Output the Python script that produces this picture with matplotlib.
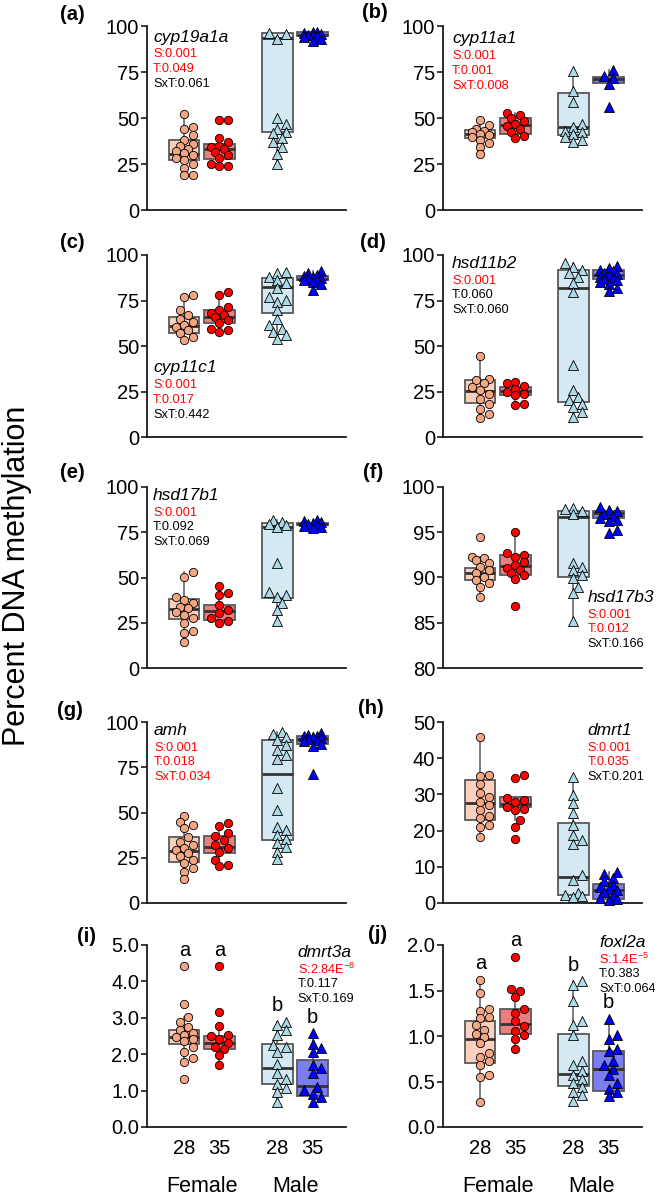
import numpy as np
import matplotlib
matplotlib.use("Agg")
import matplotlib.pyplot as plt

plt.rcParams['font.family'] = ['Liberation Sans', 'DejaVu Sans']
plt.rcParams['mathtext.fontset'] = 'custom'
plt.rcParams['mathtext.rm'] = 'Liberation Sans'

# ---- groups shared by every panel
positions = [1, 2, 3.65, 4.65]
tick_labels = ['28', '35', '28', '35']
sex_labels = ['Female', 'Male']
point_colors = ['#F4A582', '#FF0000', '#ADD8E6', '#0000FF']
box_colors = ['#FCD0BE', '#F27C7C', '#D4E9F1', '#7D7DF2']
markers = ['o', 'o', '^', '^']

# ---- panel data: points per group, boxes as (q1, median, q3)
a_points = [
    [52, 45, 44, 41, 38, 36, 35, 33, 32, 31, 30, 28, 27, 25, 23, 19, 19],
    [49, 49, 39, 37, 35, 34, 33, 31.5, 30, 28, 25, 24, 23.7],
    [96, 95.4, 93, 49.8, 47, 44, 42.5, 41.6, 38.9, 37, 34, 30.7, 25],
    [97, 96.5, 96, 95.5, 95, 95, 94.5, 94, 93, 92],
]
a_boxes = [(27, 30.7, 38), (27.5, 33, 35.8), (42.5, 93.6, 96.4), (94.5, 95.3, 96.5)]

b_points = [
    [49, 46, 44, 43, 42.3, 41.4, 40.5, 39.6, 38.2, 36.4, 34.2, 30.3],
    [52.6, 51.4, 50, 48.6, 46.8, 45.4, 44, 42.3, 40, 39],
    [75.7, 64.9, 58.6, 46.8, 45, 43.2, 42.3, 41.4, 39.6, 37.8, 37],
    [76, 73, 72, 68.5, 55.9],
]
b_boxes = [(39.3, 41.4, 43.6), (41.4, 46, 50), (40.5, 45, 63.4), (68.8, 71, 72.5)]

c_points = [
    [78, 77, 69.7, 67, 65, 63.3, 61.5, 60.6, 58.7, 56.9, 55, 53.2],
    [79.8, 78, 71.6, 69.7, 67.9, 67, 65.7, 64.2, 62.4, 59.6, 58.7, 57.8],
    [90.8, 90, 88, 86, 84.4, 81.7, 77, 75.2, 74.3, 69.7, 65, 61.5, 59.6, 57.8, 56, 54],
    [91, 90, 89, 88.5, 88, 87.5, 87, 86.5, 86, 85, 84, 81],
]
c_boxes = [(57.2, 61, 65.7), (62.8, 66, 70), (68.3, 82.6, 87.5), (86.2, 87, 88.5)]

d_points = [
    [44.4, 32, 31.2, 29.4, 27.5, 25.7, 23.9, 21.1, 18.3, 15.6, 12.8, 10.6],
    [30.3, 29.4, 27.9, 26.6, 24.8, 23.9, 22.9, 18.3, 17.4],
    [95.4, 93.6, 91.7, 89.9, 88, 84.4, 79.8, 39.4, 25.7, 22, 20.2, 18.3, 16.5, 13.8, 11],
    [94, 93, 92, 91, 90, 89.5, 89, 88, 87.5, 87, 86, 85, 84, 82, 80],
]
d_boxes = [(18.9, 25.1, 31.2), (23.3, 25.4, 27.5), (19.3, 82, 91.7), (86.6, 89, 91.7)]

e_points = [
    [53.2, 50.5, 39.4, 37.6, 35.8, 33.9, 33, 31.2, 29.4, 27.5, 24.8, 20.2, 19.3, 14.1],
    [45.3, 41.3, 40.4, 34.9, 32.1, 30.3, 27.5, 25.7, 24.8],
    [81.7, 80.7, 79.8, 78.9, 78, 57.8, 42.2, 40.4, 39.4, 35.8, 32.1, 25.7],
    [81.5, 81, 80.5, 80, 79.5, 79, 78.5, 78, 77.5],
]
e_boxes = [(27, 32.8, 38), (26.6, 31.7, 34.7), (38.9, 78, 80.2), (79, 79.5, 80)]

f_points = [
    [94.5, 92.3, 92.1, 91.9, 91.6, 91.2, 90.8, 90.5, 90.1, 89.7, 89.4, 89, 87.9],
    [95, 92.7, 92.5, 92.3, 91.7, 91.4, 91, 90.8, 90.5, 90.3, 89.8, 86.9],
    [97.7, 97.6, 97.4, 97, 91.6, 91.2, 90.8, 90.3, 89.9, 89, 88.3, 85.2],
    [97.8, 97.5, 97.3, 97, 96.8, 96.6, 96.4, 96.2, 95.2, 94.9],
]
f_boxes = [(89.7, 90.5, 91.1), (90.3, 91.3, 92.5), (90, 96.7, 97.4), (96.6, 97.1, 97.3)]

g_points = [
    [48, 44.9, 43, 41.3, 36.7, 33.9, 32.1, 30.3, 29.4, 27.5, 25.7, 23.9, 22, 19.3, 17.4, 13.2],
    [44, 42.6, 38.5, 37.2, 34.9, 32.1, 30.3, 28.4, 23.5, 21.1, 20.2],
    [94.5, 93.6, 91.7, 89.9, 87.2, 84.4, 81.7, 79.8, 63.3, 51.4, 42.2, 40.4, 37.6,
     35.2, 33, 31.2, 28.4, 24.2],
    [94, 93, 92.5, 92, 91.5, 91, 90.5, 90, 89.5, 88, 87, 71],
]
g_boxes = [(22.9, 29, 36.7), (27.9, 31.2, 37), (34.9, 71.2, 90.3), (88.1, 90.8, 92.3)]

h_points = [
    [45.9, 35.3, 35, 33, 30.3, 29.4, 28, 27, 25.7, 23.9, 23.4, 21.6, 21.1, 18.3],
    [35.3, 34.4, 28.9, 28.4, 28, 26.6, 26.1, 25.7, 22.9, 21.1, 17.7],
    [34.7, 29.8, 27.7, 25, 21.6, 18.8, 17.4, 16.3, 7.8, 6.4, 2.9, 2.3, 1.8, 1.7],
    [8.5, 8, 7, 6, 5, 4.5, 4, 3.5, 3, 2, 1.5, 1, 0.8],
]
h_boxes = [(22.9, 27.7, 33.9), (26.6, 27.4, 29.4), (2.1, 7.3, 22.2), (1.1, 3.5, 5.2)]

i_points = [
    [4.42, 3.39, 3.03, 2.89, 2.75, 2.66, 2.57, 2.52, 2.48, 2.43, 2.37, 2.2, 2.06, 1.9, 1.79, 1.33],
    [4.42, 3.17, 2.77, 2.52, 2.5, 2.43, 2.31, 2.2, 2.13, 1.97, 1.7],
    [2.89, 2.8, 2.66, 2.52, 2.25, 2.2, 2.06, 1.74, 1.47, 1.33, 1.19, 1.06, 0.96, 0.69],
    [2.57, 2.29, 2.16, 2.06, 1.7, 1.61, 1.47, 1.1, 1.01, 0.92, 0.83, 0.69],
]
i_boxes = [(2.28, 2.48, 2.66), (2.14, 2.32, 2.5), (1.17, 1.62, 2.28), (0.85, 1.13, 1.85)]
i_letters = ['a', 'a', 'b', 'b']

j_points = [
    [1.62, 1.47, 1.3, 1.28, 1.21, 1.2, 1.12, 1.07, 1.02, 0.99, 0.92, 0.81, 0.77, 0.72,
     0.68, 0.57, 0.55, 0.28],
    [1.87, 1.52, 1.5, 1.43, 1.3, 1.25, 1.17, 1.11, 1.06, 1.01, 0.97, 0.86],
    [1.6, 1.56, 1.38, 1.16, 1.12, 1.01, 0.72, 0.68, 0.62, 0.57, 0.53, 0.48, 0.44, 0.39,
     0.35, 0.29],
    [1.19, 1.01, 0.97, 0.86, 0.83, 0.72, 0.68, 0.64, 0.57, 0.48, 0.42, 0.39, 0.34],
]
j_boxes = [(0.7, 0.97, 1.17), (1.02, 1.13, 1.3), (0.45, 0.58, 1.02), (0.4, 0.64, 0.84)]
j_letters = ['a', 'a', 'b', 'b']

genes = ['cyp19a1a', 'cyp11a1', 'cyp11c1', 'hsd11b2', 'hsd17b1',
         'hsd17b3', 'amh', 'dmrt1', 'dmrt3a', 'foxl2a']
stats = [
    ['S:0.001', 'T:0.049', 'SxT:0.061'],
    ['S:0.001', 'T:0.001', 'SxT:0.008'],
    ['S:0.001', 'T:0.017', 'SxT:0.442'],
    ['S:0.001', 'T:0.060', 'SxT:0.060'],
    ['S:0.001', 'T:0.092', 'SxT:0.069'],
    ['S:0.001', 'T:0.012', 'SxT:0.166'],
    ['S:0.001', 'T:0.018', 'SxT:0.034'],
    ['S:0.001', 'T:0.035', 'SxT:0.201'],
    [r'S:2.84E$^{\mathregular{-8}}$', 'T:0.117', 'SxT:0.169'],
    [r'S:1.4E$^{\mathregular{-5}}$', 'T:0.383', 'SxT:0.064'],
]
significant = [
    [1, 1, 0], [1, 1, 1], [1, 1, 0], [1, 0, 0], [1, 0, 0],
    [1, 1, 0], [1, 1, 1], [1, 1, 0], [1, 0, 0], [1, 0, 0],
]
yticks = [
    [0, 25, 50, 75, 100], [0, 25, 50, 75, 100], [0, 25, 50, 75, 100],
    [0, 25, 50, 75, 100], [0, 25, 50, 75, 100], [80, 85, 90, 95, 100],
    [0, 25, 50, 75, 100], [0, 10, 20, 30, 40, 50],
    [0, 1, 2, 3, 4, 5], [0, 0.5, 1.0, 1.5, 2.0],
]

all_points = [a_points, b_points, c_points, d_points, e_points,
              f_points, g_points, h_points, i_points, j_points]
all_boxes = [a_boxes, b_boxes, c_boxes, d_boxes, e_boxes,
             f_boxes, g_boxes, h_boxes, i_boxes, j_boxes]
panel_tags = ['(a)', '(b)', '(c)', '(d)', '(e)', '(f)', '(g)', '(h)', '(i)', '(j)']

# ---- layout (pixels of the 661x1203 figure)
W, H = 661, 1203
col_left = [147, 443]
ax_w = 199
row_top = [26, 255, 487, 722, 945]
row_bot = [210, 437, 668, 903, 1127]
XLIM = (-0.06, 5.6)
# panel tag positions (left edge x, centre y) in pixels
tag_x = [60, 362, 60, 360, 60, 363, 57, 358, 77, 368]
tag_y = [15, 13, 242, 242, 473, 473, 710, 708, 937, 935]
# annotation anchor (axes fraction, left of gene name / centre line)
anchors = [(0.03, 0.94), (0.045, 0.93), (0.03, 0.38), (0.045, 0.955), (0.03, 0.955),
           (0.725, 0.39), (0.035, 0.955), (0.725, 0.955), (0.757, 0.96), (0.785, 1.015)]


def swarm(vals, ypx, xpx, diam=7.0, max_px=12.0):
    """simple beeswarm: offsets (data units) so markers don't overlap much"""
    vals = np.asarray(vals, float)
    step = diam * 0.6
    cands = [0.0]
    k = 1
    while k * step <= max_px:
        cands += [k * step, -k * step]
        k += 1
    placed = []
    offs = np.zeros(len(vals))
    for i in np.argsort(vals):
        y = vals[i] * ypx
        best, best_d = 0.0, -1
        for c in cands:
            d = min([np.hypot(c - px, y - py) for px, py in placed], default=1e9)
            if d >= diam:
                best = c
                break
            if d > best_d:
                best_d, best = d, c
        placed.append((best, y))
        offs[i] = best / xpx
    return offs


def box_stats(pts, box):
    q1, med, q3 = box
    iqr = q3 - q1
    pts = np.asarray(pts, float)
    inside = pts[(pts >= q1 - 1.5 * iqr) & (pts <= q3 + 1.5 * iqr)]
    lo = min(inside.min(), q1) if len(inside) else q1
    hi = max(inside.max(), q3) if len(inside) else q3
    return dict(q1=q1, med=med, q3=q3, whislo=lo, whishi=hi, fliers=[])


fig = plt.figure(figsize=(W / 100, H / 100), dpi=100)

for p in range(10):
    row, col = divmod(p, 2)
    top, bot = row_top[row], row_bot[row]
    left = col_left[col]
    ax = fig.add_axes([left / W, 1 - bot / H, ax_w / W, (bot - top) / H])

    ticks = yticks[p]
    ymin, ymax = ticks[0], ticks[-1]
    ax.set_xlim(*XLIM)
    ax.set_ylim(ymin, ymax)

    bstats = [box_stats(pts, bx) for pts, bx in zip(all_points[p], all_boxes[p])]
    bp = ax.bxp(bstats, positions=positions, widths=0.86, patch_artist=True,
                showfliers=False, showcaps=False,
                boxprops=dict(edgecolor='#595959', linewidth=1.3),
                medianprops=dict(color='#333333', linewidth=2.0),
                whiskerprops=dict(color='#595959', linewidth=1.1))
    for patch, fc in zip(bp['boxes'], box_colors):
        patch.set_facecolor(fc)

    ypx = (bot - top) / (ymax - ymin)
    xpx = ax_w / (XLIM[1] - XLIM[0])
    for g, pts in enumerate(all_points[p]):
        offs = swarm(np.asarray(pts) - ymin, ypx, xpx)
        size = 36 if markers[g] == 'o' else 52
        ax.scatter(positions[g] + offs, pts, s=size, marker=markers[g],
                   facecolor=point_colors[g], edgecolor='black', linewidth=0.6,
                   zorder=3, clip_on=False)

    # axes styling
    for s in ['top', 'right']:
        ax.spines[s].set_visible(False)
    for s in ['left', 'bottom']:
        ax.spines[s].set_linewidth(1.3)
        ax.spines[s].set_color('#1a1a1a')
    ax.set_yticks(ticks)
    if p >= 8:
        ax.set_yticklabels([f'{t:.1f}' for t in ticks])
    else:
        ax.set_yticklabels([f'{t:g}' for t in ticks])
    ax.tick_params(axis='y', direction='out', length=4, width=1.2, pad=1.5,
                   labelsize=14.5, color='#1a1a1a')
    if p >= 8:
        ax.set_xticks(positions)
        ax.set_xticklabels(tick_labels)
        ax.tick_params(axis='x', length=0, pad=9, labelsize=14.5)
        for k, name in enumerate(sex_labels):
            xc = (positions[2 * k] + positions[2 * k + 1]) / 2
            ax.annotate(name, xy=(xc, 0), xycoords=('data', 'axes fraction'),
                        xytext=(0, -43), textcoords='offset points',
                        ha='center', va='center', fontsize=15.5)
        letters = i_letters if p == 8 else j_letters
        for g, pts in enumerate(all_points[p]):
            ax.text(positions[g], max(pts) + 0.035 * (ymax - ymin), letters[g],
                    ha='center', va='bottom', fontsize=14.5, clip_on=False)
    else:
        ax.set_xticks([])

    # gene name + stats
    axx, axy = anchors[p]
    ax.annotate(genes[p], xy=(axx, axy), xycoords='axes fraction',
                ha='left', va='center', fontsize=12.5, style='italic')
    for k, (txt, sig) in enumerate(zip(stats[p], significant[p])):
        ax.annotate(txt, xy=(axx, axy), xycoords='axes fraction',
                    xytext=(0, -(12.5 + 10.6 * k)), textcoords='offset points',
                    ha='left', va='center', fontsize=9.2,
                    color='#FF0000' if sig else 'black')

    # panel tag
    fig.text(tag_x[p] / W, 1 - tag_y[p] / H, panel_tags[p],
             ha='left', va='center', fontsize=14.5, fontweight='bold')

fig.text(17 / W, 1 - 576 / H, 'Percent DNA methylation', rotation=90,
         ha='center', va='center', fontsize=22)

fig.savefig('out.png', dpi=100)
